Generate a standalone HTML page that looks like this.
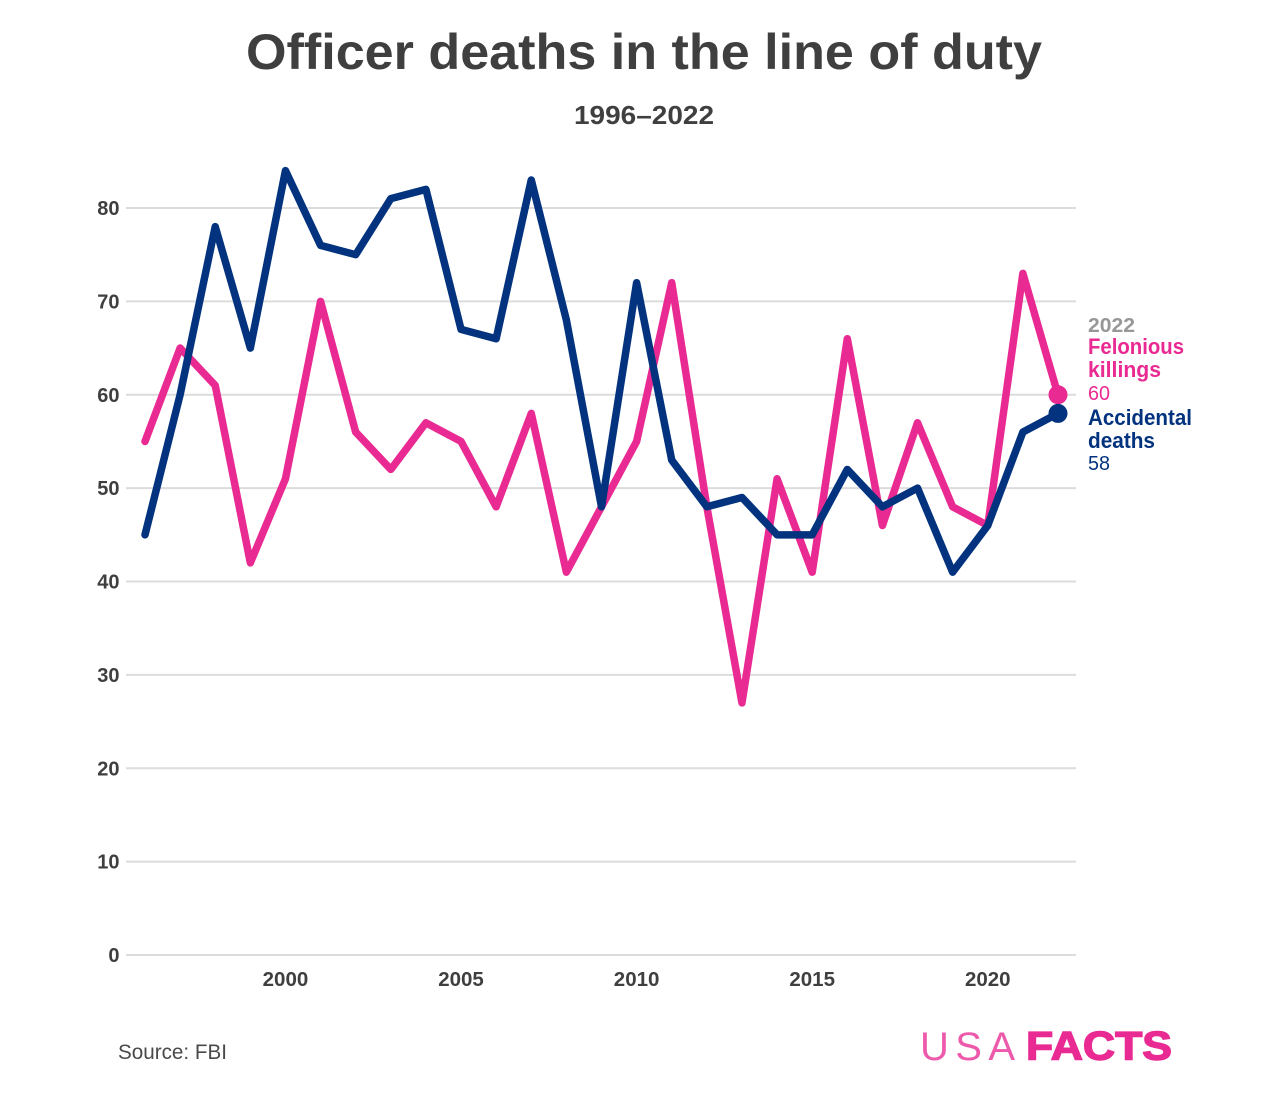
<!DOCTYPE html>
<html lang="en">
<head>
<meta charset="utf-8">
<title>Officer deaths in the line of duty</title>
<style>
html,body{margin:0;padding:0;background:#fff;}
svg{display:block;}
text{font-family:"Liberation Sans",sans-serif;}
</style>
</head>
<body>
<svg id="chart" width="1262" height="1094" viewBox="0 0 1262 1094" xmlns="http://www.w3.org/2000/svg">
  <rect x="0" y="0" width="1262" height="1094" fill="#ffffff"/>
  <text x="246" y="69" font-size="50" font-weight="700" fill="#3f3f3f" textLength="796" lengthAdjust="spacingAndGlyphs">Officer deaths in the line of duty</text>
  <text x="574" y="124" font-size="26" font-weight="700" fill="#3f3f3f" textLength="140" lengthAdjust="spacingAndGlyphs">1996–2022</text>
  <g id="grid"></g>
  <g id="y-ticks"></g>
  <g id="x-ticks"></g>
  <g id="series"></g>

  <g>
    <text x="1088" y="332" font-size="20" font-weight="700" fill="#979797" textLength="47" lengthAdjust="spacingAndGlyphs">2022</text>
    <text x="1088" y="354" font-size="22" font-weight="700" fill="#e92a92" textLength="96" lengthAdjust="spacingAndGlyphs">Felonious</text>
    <text x="1088" y="377" font-size="22" font-weight="700" fill="#e92a92" textLength="73" lengthAdjust="spacingAndGlyphs">killings</text>
    <text x="1088" y="400" font-size="20" fill="#e92a92" textLength="22" lengthAdjust="spacingAndGlyphs">60</text>
    <text x="1088" y="425" font-size="22" font-weight="700" fill="#03337e" textLength="104" lengthAdjust="spacingAndGlyphs">Accidental</text>
    <text x="1088" y="448" font-size="22" font-weight="700" fill="#03337e" textLength="67" lengthAdjust="spacingAndGlyphs">deaths</text>
    <text x="1088" y="470" font-size="20" fill="#03337e" textLength="22" lengthAdjust="spacingAndGlyphs">58</text>
  </g>

  <text x="118" y="1059" font-size="21" fill="#4a4a4a" textLength="109" lengthAdjust="spacingAndGlyphs">Source: FBI</text>

  <g>
    <text x="920" y="1060" font-size="40" font-weight="400" fill="#ee5aab" textLength="95" lengthAdjust="spacing">USA</text>
    <text x="1026" y="1059.5" font-size="40" font-weight="700" fill="#e92a92" stroke="#e92a92" stroke-width="1.4" textLength="146" lengthAdjust="spacingAndGlyphs">FACTS</text>
  </g>
</svg>
<script>
const years = [1996,1997,1998,1999,2000,2001,2002,2003,2004,2005,2006,2007,2008,2009,2010,2011,2012,2013,2014,2015,2016,2017,2018,2019,2020,2021,2022];
const feloniousKillings = [55,65,61,42,51,70,56,52,57,55,48,58,41,48,55,72,48,27,51,41,66,46,57,48,46,73,60];
const accidentalDeaths = [45,60,78,65,84,76,75,81,82,67,66,83,68,48,72,53,48,49,45,45,52,48,50,41,46,56,58];
const yTickLabels = [0,10,20,30,40,50,60,70,80];
const xTickLabels = [2000,2005,2010,2015,2020];

const NS = 'http://www.w3.org/2000/svg';
function xScale(year){ return 145 + (year - 1996) * (1058 - 145) / 26; }
function yScale(value){ return 955 - value * (955 - 208) / 80; }
function make(tag, attrs, parent){
  const el = document.createElementNS(NS, tag);
  Object.keys(attrs).forEach(function(k){ el.setAttribute(k, attrs[k]); });
  parent.appendChild(el);
  return el;
}

const gridGroup = document.getElementById('grid');
const yGroup = document.getElementById('y-ticks');
const xGroup = document.getElementById('x-ticks');
const seriesGroup = document.getElementById('series');

yTickLabels.forEach(function(v){
  const line = make('line', {x1:126, x2:1076, y1:yScale(v), y2:yScale(v), stroke:'#dcdcdc', 'stroke-width':2}, gridGroup);
  
  
  const label = make('text', {x:119.5, y:yScale(v) + 7, 'text-anchor':'end', 'font-size':20, 'font-weight':700, fill:'#3f3f3f'}, yGroup);
  
  
  label.textContent = v;
});

xTickLabels.forEach(function(y){
  const label = make('text', {x:xScale(y), y:986, 'text-anchor':'middle', 'font-size':20.5, 'font-weight':700, fill:'#3f3f3f'}, xGroup);
  
  
  label.textContent = y;
});

function drawSeries(values, color, key){
  const pts = values.map(function(v, i){ return xScale(years[i]) + ',' + yScale(v); }).join(' ');
  const line = make('polyline', {points:pts, fill:'none', stroke:color, 'stroke-width':7.5, 'stroke-linejoin':'round', 'stroke-linecap':'round'}, seriesGroup);
  
  
  const last = values.length - 1;
  const dot = make('circle', {cx:xScale(years[last]), cy:yScale(values[last]), r:9.5, fill:color}, seriesGroup);
  
  
}
drawSeries(feloniousKillings, '#e92a92', 'felonious-killings');
drawSeries(accidentalDeaths, '#03337e', 'accidental-deaths');
</script>
</body>
</html>
